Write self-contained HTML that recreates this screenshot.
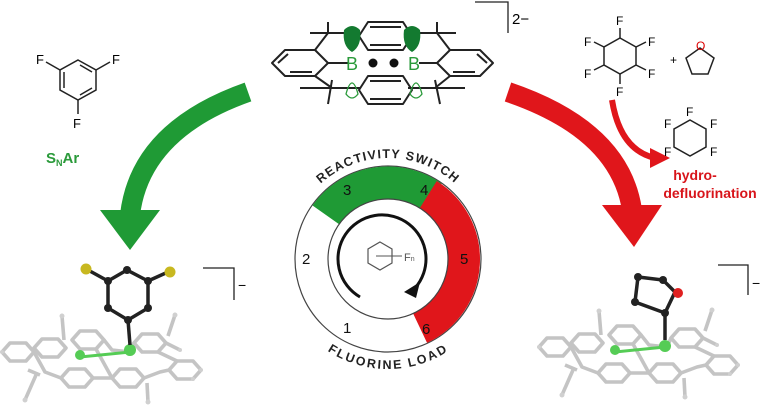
<!DOCTYPE html>
<html><head><style>
body{margin:0;background:#fff;width:768px;height:415px;overflow:hidden;font-family:"Liberation Sans",sans-serif}
</style></head><body>
<svg width="768" height="415" viewBox="0 0 768 415" xmlns="http://www.w3.org/2000/svg" font-family="Liberation Sans, sans-serif">
<defs>
<path id="tp" d="M287,259 A101,101 0 0 1 489,259"/>
<path id="bp" d="M287,259 A101,101 0 0 0 489,259"/>
<g id="frame">
 <g stroke="#c4c4c4" stroke-width="3.6" fill="none" stroke-linejoin="round">
  <polygon points="2,352 10,343 26,343 34,352 26,361 10,361"/>
  <polygon points="34,348 42,339 58,339 66,348 58,357 42,357"/>
  <polygon points="72,340 80,331 96,331 104,340 96,349 80,349"/>
  <polygon points="134,343 142,334 158,334 166,343 158,352 142,352"/>
  <polygon points="169,370 177,361 193,361 201,370 193,379 177,379"/>
  <polygon points="61,378 69,369 85,369 93,378 85,387 69,387"/>
  <polygon points="112,378 120,369 136,369 144,378 136,387 120,387"/>
  <polyline points="34,352 45,372 61,378"/>
  <polyline points="104,340 112,350 130,352 134,343"/>
  <polyline points="93,378 112,378"/><polyline points="144,378 160,372 169,370"/>
  <polyline points="96,349 112,378"/><polyline points="158,352 177,361"/>
  <line x1="62" y1="316" x2="64" y2="340"/><line x1="175" y1="315" x2="168" y2="336"/>
  <line x1="147" y1="383" x2="148" y2="402"/><line x1="25" y1="400" x2="36" y2="375"/>
  <line x1="166" y1="343" x2="180" y2="350"/><line x1="40" y1="375" x2="28" y2="370"/>
 </g>
 <g fill="#d0d0d0">
  <circle cx="62" cy="316" r="2.5"/><circle cx="175" cy="315" r="2.5"/><circle cx="148" cy="402" r="2.5"/><circle cx="25" cy="400" r="2.5"/>
  <circle cx="2" cy="352" r="2"/><circle cx="201" cy="370" r="2"/><circle cx="193" cy="379" r="2"/><circle cx="180" cy="350" r="2"/>
 </g>
</g>
</defs>
<!-- trifluorobenzene -->
<g stroke="#222" stroke-width="1.5" fill="none">
<polygon points="78,60 96,70 96,90 78,100 60,90 60,70"/>
<line x1="64" y1="72" x2="64" y2="88"/><line x1="92" y1="72" x2="80" y2="65"/><line x1="80" y1="95" x2="92" y2="88"/>
<line x1="60" y1="70" x2="46" y2="62"/><line x1="96" y1="70" x2="110" y2="62"/><line x1="78" y1="100" x2="78" y2="114"/>
</g>
<text x="36" y="64" font-size="13">F</text><text x="112" y="64" font-size="13">F</text><text x="73" y="128" font-size="13">F</text>
<text x="46" y="163" font-size="15" font-weight="bold" fill="#2a9a3a">S<tspan font-size="9" dy="3">N</tspan><tspan dy="-3">Ar</tspan></text>
<!-- green arrow -->
<path d="M248,92 Q140,130 130,215" stroke="#1f9a35" stroke-width="20" fill="none"/>
<polygon points="100,210 160,210 130,250" fill="#1f9a35"/>
<!-- red arrow -->
<path d="M508,92 Q620,130 632,210" stroke="#e0161b" stroke-width="20" fill="none"/>
<polygon points="602,205 662,205 634,247" fill="#e0161b"/>
<path d="M612,100 Q620,150 655,158" stroke="#e0161b" stroke-width="6" fill="none"/>
<polygon points="650,148 670,158 650,168" fill="#e0161b"/>
<!-- top boron molecule -->
<g stroke="#222" stroke-width="2" fill="none" stroke-linejoin="round">
<polygon points="368,22 403,22 412,36 403,50 368,50 359,36"/>
<line x1="370" y1="27" x2="401" y2="27"/><line x1="370" y1="45" x2="401" y2="45"/>
<polygon points="368,76 403,76 412,90 403,104 368,104 359,90"/>
<line x1="370" y1="81" x2="401" y2="81"/><line x1="370" y1="99" x2="401" y2="99"/>
<polygon points="272,63 285,50 315,50 328,63 315,76 285,76"/>
<line x1="278" y1="63" x2="288" y2="54"/><line x1="290" y1="72" x2="312" y2="72"/>
<polygon points="437,63 450,50 480,50 493,63 480,76 450,76"/>
<line x1="487" y1="63" x2="477" y2="54"/><line x1="453" y1="72" x2="475" y2="72"/>
<line x1="315" y1="50" x2="328" y2="33"/><line x1="310" y1="33" x2="348" y2="33"/><line x1="328" y1="22" x2="328" y2="33"/>
<line x1="450" y1="50" x2="437" y2="33"/><line x1="418" y1="33" x2="456" y2="33"/><line x1="437" y1="22" x2="437" y2="33"/>
<line x1="315" y1="76" x2="332" y2="88"/><line x1="300" y1="88" x2="360" y2="88"/><line x1="332" y1="80" x2="328" y2="104"/>
<line x1="450" y1="76" x2="435" y2="88"/><line x1="408" y1="88" x2="465" y2="88"/><line x1="435" y1="80" x2="440" y2="104"/>
<line x1="328" y1="63" x2="348" y2="63"/><line x1="419" y1="63" x2="437" y2="63"/>
</g>
<path d="M344,30 q8,-8 16,0 q2,16 -8,22 q-10,-6 -8,-22z" fill="#137a30"/>
<path d="M404,30 q8,-8 16,0 q2,16 -8,22 q-10,-6 -8,-22z" fill="#137a30"/>
<text x="346" y="70" font-size="18" fill="#2a9a3a">B</text><text x="408" y="70" font-size="18" fill="#2a9a3a">B</text>
<circle cx="373" cy="63" r="4.5" fill="#111"/><circle cx="394" cy="63" r="4.5" fill="#111"/>
<path d="M346,94 q6,-22 12,0 q-6,8 -12,0z M410,94 q6,-22 12,0 q-6,8 -12,0z" fill="none" stroke="#2a9a3a" stroke-width="1.3"/>
<polyline points="475,2 508,2 508,33" fill="none" stroke="#222" stroke-width="1.3"/>
<text x="512" y="24" font-size="15">2−</text>
<!-- C6F6 and THF -->
<g stroke="#222" stroke-width="1.5" fill="none">
<polygon points="620,38 636,47 636,65 620,74 604,65 604,47"/>
<line x1="620" y1="38" x2="620" y2="28"/><line x1="636" y1="47" x2="646" y2="42"/><line x1="636" y1="65" x2="646" y2="70"/><line x1="620" y1="74" x2="620" y2="84"/><line x1="604" y1="65" x2="594" y2="70"/><line x1="604" y1="47" x2="594" y2="42"/>
<polygon points="700,48 714,58 708,74 692,74 686,58"/>
<polygon points="690,120 706,129 706,147 690,156 674,147 674,129"/>
</g>
<g font-size="12"><text x="616" y="25">F</text><text x="648" y="46">F</text><text x="648" y="78">F</text><text x="616" y="96">F</text><text x="584" y="78">F</text><text x="584" y="46">F</text>
<text x="670" y="64">+</text><text x="696" y="50" fill="#d00">O</text>
<text x="686" y="116">F</text><text x="710" y="128">F</text><text x="710" y="156">F</text><text x="664" y="128">F</text><text x="664" y="156">F</text></g>
<text x="695" y="180" font-size="14" font-weight="bold" fill="#d8141a" text-anchor="middle">hydro-</text>
<text x="710" y="198" font-size="14" font-weight="bold" fill="#d8141a" text-anchor="middle">defluorination</text>
<!-- dial -->
<circle cx="388" cy="259" r="93" fill="#fff" stroke="#444" stroke-width="1.2"/>
<path d="M326,215 A76,76 0 0 1 432,197" stroke="#1f9a35" stroke-width="33" fill="none"/>
<path d="M428,195 A76,76 0 0 1 420,328" stroke="#e0161b" stroke-width="33" fill="none"/>
<circle cx="388" cy="259" r="60" fill="#fff" stroke="#444" stroke-width="1.2"/>
<path d="M360,297 A44,44 0 1 1 415,288" stroke="#111" stroke-width="3" fill="none"/>
<polygon points="404,292 420,282 416,298" fill="#111"/>
<polygon points="380,242 392,249 392,263 380,270 368,263 368,249" fill="none" stroke="#555" stroke-width="1.2"/>
<line x1="376" y1="256" x2="402" y2="256" stroke="#555"/><text x="404" y="261" font-size="11" fill="#555">F<tspan font-size="7">n</tspan></text>
<g font-size="15" fill="#111"><text x="343" y="195">3</text><text x="420" y="195">4</text><text x="460" y="264">5</text><text x="422" y="334">6</text><text x="302" y="264">2</text><text x="343" y="333">1</text></g>
<text font-size="12.5" font-weight="bold" fill="#222" letter-spacing="1.2"><textPath href="#tp" startOffset="50%" text-anchor="middle">REACTIVITY SWITCH</textPath></text>
<text font-size="12.5" font-weight="bold" fill="#222" letter-spacing="1.2" dy="9"><textPath href="#bp" startOffset="50%" text-anchor="middle">FLUORINE LOAD</textPath></text>
<!-- bottom left molecule -->
<use href="#frame"/>
<line x1="80" y1="357" x2="130" y2="352" stroke="#5c5" stroke-width="3"/>
<circle cx="80" cy="355" r="5" fill="#5c5"/><circle cx="130" cy="350" r="6" fill="#5c5"/>
<g stroke="#222" stroke-width="3.5" fill="none"><polygon points="127,270 148,281 148,308 128,320 108,308 108,281"/><line x1="128" y1="320" x2="130" y2="345"/><line x1="108" y1="281" x2="88" y2="270"/><line x1="148" y1="281" x2="168" y2="272"/></g>
<g fill="#222"><circle cx="127" cy="270" r="4"/><circle cx="148" cy="281" r="4"/><circle cx="148" cy="308" r="4"/><circle cx="128" cy="320" r="4"/><circle cx="108" cy="308" r="4"/><circle cx="108" cy="281" r="4"/></g>
<circle cx="86" cy="269" r="5.5" fill="#c8b820"/><circle cx="170" cy="272" r="5.5" fill="#c8b820"/>
<polyline points="203,268 234,268 234,300" fill="none" stroke="#222" stroke-width="1.3"/><text x="238" y="290" font-size="14">−</text>
<!-- bottom right molecule -->
<use href="#frame" transform="translate(537,-5)"/>
<line x1="615" y1="352" x2="665" y2="347" stroke="#5c5" stroke-width="3"/>
<circle cx="615" cy="350" r="5" fill="#5c5"/><circle cx="665" cy="346" r="6" fill="#5c5"/>
<g stroke="#222" stroke-width="3.5" fill="none"><polyline points="665,340 665,313 635,302 638,277 663,280 675,292 665,313"/></g>
<g fill="#222"><circle cx="665" cy="313" r="4"/><circle cx="635" cy="302" r="4"/><circle cx="638" cy="277" r="4"/><circle cx="663" cy="280" r="4"/></g>
<circle cx="678" cy="293" r="5" fill="#e02020"/>
<polyline points="718,265 748,265 748,295" fill="none" stroke="#222" stroke-width="1.3"/><text x="752" y="288" font-size="14">−</text>
</svg>
</body></html>
